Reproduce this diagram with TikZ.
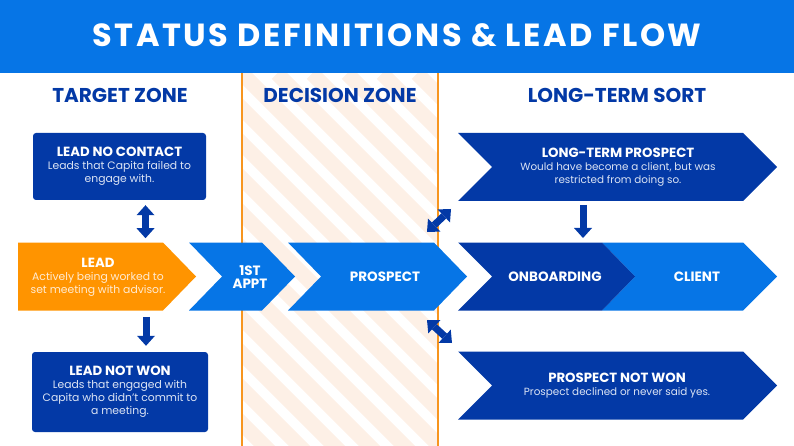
\documentclass[tikz,border=0pt]{standalone}
\usepackage{fontspec}
\setmainfont{Poppins}
\usepackage{tikz}
\usetikzlibrary{positioning, arrows.meta, calc}

\definecolor{HeadBlue}{HTML}{0675E6}
\definecolor{DarkBlue}{HTML}{0339A6}
\definecolor{LeadOrange}{HTML}{FF9400}
\definecolor{LineOrange}{HTML}{F7951E}
\definecolor{Peach}{HTML}{FDF0E6}
\definecolor{PaleBlue}{HTML}{DCE4F4}
\definecolor{PaleOrange}{HTML}{FFEBD2}

\tikzset{
    zonetitle/.style={text=DarkBlue, font=\fontsize{20}{20}\selectfont\bfseries},
    infobox/.style={fill=DarkBlue, rounded corners=3pt, align=center, inner sep=0pt,
        text=PaleBlue, font=\fontsize{10.8}{13}\selectfont},
    chevtext/.style={text=PaleBlue, align=center, inner sep=0pt, font=\fontsize{10.8}{13}\selectfont},
    oneway/.style={draw=DarkBlue, line width=7pt, ->},
    twoway/.style={draw=DarkBlue, line width=7pt, <->},
}

\newcommand{\boxhead}[1]{{\color{white}\fontsize{13.3}{14}\selectfont\bfseries #1}}
\newcommand{\bighead}[1]{{\color{white}\fontsize{13.5}{17}\selectfont\bfseries #1}}

% fill, left, notch, right, tip, middle y
\newcommand{\chevron}[6]{%
    \fill[#1] (#2,#6-34) -- (#4,#6-34) -- (#5,#6) -- (#4,#6+34) -- (#2,#6+34) -- (#3,#6) -- cycle;}

\begin{document}
\begin{tikzpicture}[x=1pt, y=-1pt, >={Triangle[width=18pt,length=10pt,line width=0pt]}]
    \useasboundingbox (0,0) rectangle (794,446);

    % header
    \fill[HeadBlue] (0,0) rectangle (794,73.5);
    \node[text=white, font=\fontsize{32}{32}\selectfont\bfseries\addfontfeatures{LetterSpace=8}] (title) at (397,35) {STATUS DEFINITIONS \& LEAD FLOW};

    % decision zone stripes
    \begin{scope}
        \clip (242,73.5) rectangle (438,446);
        \foreach \i in {-14,...,8}
        {
            \draw[Peach, line width=15pt] (242+\i*35,73.5) -- ++(420,420);
        }
    \end{scope}
    \draw[LineOrange, line width=2pt] (242,73.5) -- (242,446);
    \draw[LineOrange, line width=2pt] (438,73.5) -- (438,446);

    % zone titles
    \node[zonetitle] (target) at (120,95) {TARGET ZONE};
    \node[zonetitle] (decision) at (340,95) {DECISION ZONE};
    \node[zonetitle] (sort) at (617,95) {LONG-TERM SORT};

    % chevrons
    \chevron{LeadOrange}{18}{18}{163}{196}{276.5}
    \chevron{HeadBlue}{189}{222}{262}{295}{276.5}
    \chevron{HeadBlue}{288}{321}{434}{467}{276.5}
    \chevron{HeadBlue}{602}{635}{743}{777}{276.5}
    \chevron{DarkBlue}{458}{492}{602}{635}{276.5}
    \chevron{DarkBlue}{458}{492}{743}{777}{167}
    \chevron{DarkBlue}{458}{492}{743}{777}{385.5}

    % target zone
    \node[infobox, minimum width=173pt, minimum height=67pt] (lnc) at (119.5,166.5)
        {\boxhead{LEAD NO CONTACT}\\Leads that Capita failed to\\engage with.};
    \node[chevtext, text=PaleOrange] (lead) at (98,277)
        {\boxhead{LEAD}\\Actively being worked to\\set meeting with advisor.};
    \node[infobox, minimum width=176pt, minimum height=80pt] (lnw) at (120,392)
        {\boxhead{LEAD NOT WON}\\Leads that engaged with\\Capita who didn't commit to\\a meeting.};

    % decision zone
    \node[chevtext] (appt) at (250,277) {\bighead{1ST}\\\bighead{APPT}};
    \node[chevtext] (prospect) at (385,277) {\bighead{PROSPECT}};

    % long-term sort
    \node[chevtext] (onboard) at (555,277) {\bighead{ONBOARDING}};
    \node[chevtext] (client) at (697,277) {\bighead{CLIENT}};
    \node[chevtext, font=\fontsize{10.4}{13}\selectfont] (ltp) at (618,167)
        {\boxhead{LONG-TERM PROSPECT}\\Would have become a client, but was\\restricted from doing so.};
    \node[chevtext, font=\fontsize{10.4}{13}\selectfont] (pnw) at (617,386)
        {\boxhead{PROSPECT NOT WON}\\Prospect declined or never said yes.};

    % arrows
    \draw[twoway] ([xshift=26pt,yshift=-5pt]lnc.south) -- ([xshift=26pt,yshift=-38pt]lnc.south);
    \draw[oneway] ([xshift=26pt,yshift=35pt]lnw.north) -- ([xshift=26pt,yshift=6pt]lnw.north);
    \draw[oneway] ([xshift=-35pt,yshift=-38pt]ltp.center) -- ([xshift=-35pt,yshift=-71pt]ltp.center);
    \draw[twoway] ([xshift=42pt,yshift=45pt]prospect.center) -- ([xshift=66pt,yshift=68pt]prospect.center);
    \draw[twoway] ([xshift=42pt,yshift=-43pt]prospect.center) -- ([xshift=67pt,yshift=-66pt]prospect.center);
\end{tikzpicture}
\end{document}
